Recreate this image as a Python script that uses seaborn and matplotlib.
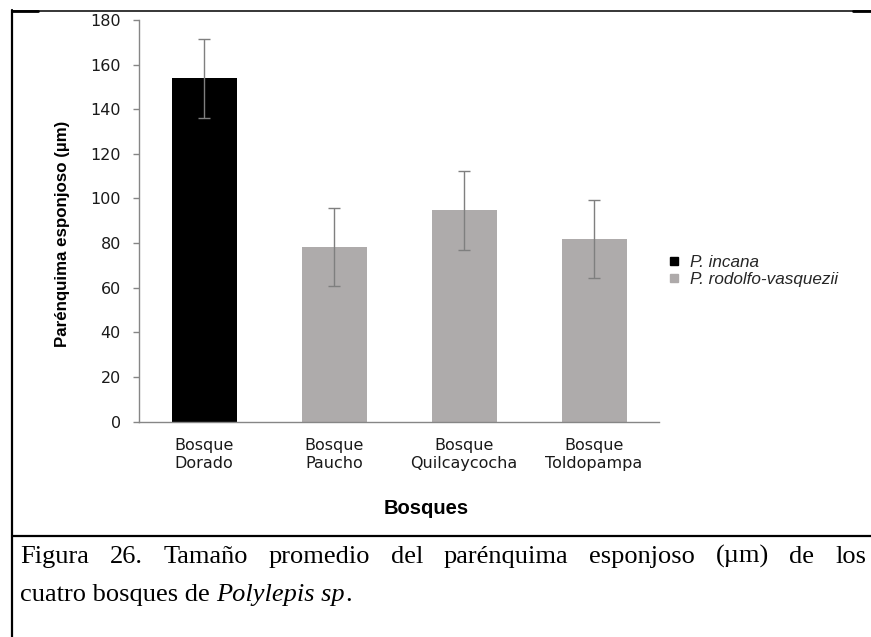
import matplotlib
matplotlib.use("Agg")
import matplotlib.pyplot as plt
from matplotlib.lines import Line2D
import seaborn as sns
import pandas as pd

# ---- data ----
categories = ["Bosque\nDorado", "Bosque\nPaucho", "Bosque\nQuilcaycocha", "Bosque\nToldopampa"]
means = [153.8, 78.4, 94.6, 82.0]
sds = [17.6, 17.5, 17.6, 17.5]
species = ["P. incana", "P. rodolfo-vasquezii", "P. rodolfo-vasquezii", "P. rodolfo-vasquezii"]
species_order = ["P. incana", "P. rodolfo-vasquezii"]
species_colors = ["#000000", "#AEAAAA"]
yticks = [0, 20, 40, 60, 80, 100, 120, 140, 160, 180]
ylabel = "Parénquima esponjoso (µm)"
xlabel = "Bosques"
caption1 = "Figura 26. Tamaño promedio del parénquima esponjoso (µm) de los"
caption2_a = "cuatro bosques de"
caption2_b = "Polylepis sp"
caption2_c = "."

df = pd.DataFrame({"Bosque": categories, "valor": means, "sd": sds, "especie": species})

sns.set_theme(style="white")
W, H = 871, 637
fig = plt.figure(figsize=(W / 100, H / 100), dpi=100)
fig.patch.set_facecolor("white")

L, R, T, B = 139, 659, 20, 421.5
ax = fig.add_axes([L / W, 1 - B / H, (R - L) / W, (B - T) / H])

sns.barplot(data=df, x="Bosque", y="valor", hue="especie", hue_order=species_order,
            palette=species_colors, dodge=False, width=0.5, errorbar=None,
            legend=False, ax=ax, edgecolor="none", linewidth=0)

# error bars centered on the drawn bars
bars = [p for p in ax.patches if p.get_height() > 0]
bars.sort(key=lambda p: p.get_x())
xs = [p.get_x() + p.get_width() / 2 for p in bars]
ax.errorbar(xs, means, yerr=sds, fmt="none", ecolor="#7F7F7F", elinewidth=1.0,
            capsize=4, capthick=1.0, zorder=5)

ax.set_xlim(-0.5, len(categories) - 0.5)
ax.set_ylim(0, 180)
ax.set_yticks(yticks)
ax.set_yticklabels([str(t) for t in yticks])
ax.set_xlabel("")
ax.set_ylabel("")

for s in ["top", "right"]:
    ax.spines[s].set_visible(False)
for s in ["left", "bottom"]:
    ax.spines[s].set_color("#868686")
    ax.spines[s].set_linewidth(1.0)

ax.tick_params(axis="y", which="both", left=True, length=4, width=1, color="#868686",
               labelsize=11.5, labelcolor="#1a1a1a", pad=9)
ax.tick_params(axis="x", bottom=False, labelsize=11.5, labelcolor="#1a1a1a", pad=6)
for lab in ax.get_xticklabels() + ax.get_yticklabels():
    lab.set_fontfamily("DejaVu Sans")
for lab in ax.get_xticklabels():
    lab.set_linespacing(1.25)

# axis titles
fig.text(63 / W, 1 - 233.5 / H, ylabel, rotation=90, ha="center", va="center",
         fontsize=12.2, fontweight="bold", family="Liberation Sans", color="black")
fig.text(426 / W, 1 - 508 / H, xlabel, ha="center", va="center",
         fontsize=14.5, fontweight="bold", family="Liberation Sans", color="black")

# legend
handles = [Line2D([0], [0], marker="s", linestyle="none", markersize=5.5,
                  markerfacecolor=c, markeredgecolor=c) for c in species_colors]
leg = ax.legend(handles, species_order, loc="center left",
                bbox_to_anchor=(668 / W, 1 - 271 / H), bbox_transform=fig.transFigure,
                frameon=False, handlelength=0.7, handletextpad=0.6, labelspacing=0.1,
                borderaxespad=0, borderpad=0,
                prop={"family": "Liberation Sans", "style": "italic", "size": 12.3})

# frame lines (document box)
def hline(x0, x1, y, lw):
    fig.add_artist(Line2D([x0 / W, x1 / W], [1 - y / H, 1 - y / H], color="black",
                          linewidth=lw, transform=fig.transFigure))

def vline(x, y0, y1, lw):
    fig.add_artist(Line2D([x / W, x / W], [1 - y0 / H, 1 - y1 / H], color="black",
                          linewidth=lw, transform=fig.transFigure))

hline(12, 871, 10.5, 1.1)
hline(12, 38, 10.5, 2.0)
hline(853, 871, 10.5, 2.0)
vline(12, 10, 637, 1.6)
hline(12, 871, 535.5, 1.6)

# caption (justified first line)
fig.canvas.draw()
renderer = fig.canvas.get_renderer()
cap_size = 19
cap_font = dict(family="Liberation Serif", fontsize=cap_size, color="black")

def width_of(s, **kw):
    t = fig.text(0, 0, s, **kw)
    w = t.get_window_extent(renderer=renderer).width
    t.remove()
    return w

words = caption1.split(" ")
widths = [width_of(w_, **cap_font) for w_ in words]
x0, x1 = 20, 866
gap = (x1 - x0 - sum(widths)) / (len(words) - 1)
x = x0
base1 = 563
for w_, wd in zip(words, widths):
    fig.text(x / W, 1 - base1 / H, w_, ha="left", va="baseline", **cap_font)
    x += wd + gap

space_w = width_of("x x", **cap_font) - width_of("xx", **cap_font)
base2 = 601
x = 20
fig.text(x / W, 1 - base2 / H, caption2_a, ha="left", va="baseline", **cap_font)
x += width_of(caption2_a, **cap_font) + space_w
fig.text(x / W, 1 - base2 / H, caption2_b, ha="left", va="baseline", style="italic", **cap_font)
x += width_of(caption2_b, style="italic", **cap_font)
fig.text(x / W, 1 - base2 / H, caption2_c, ha="left", va="baseline", **cap_font)

fig.savefig("out.png", dpi=100, facecolor="white")
